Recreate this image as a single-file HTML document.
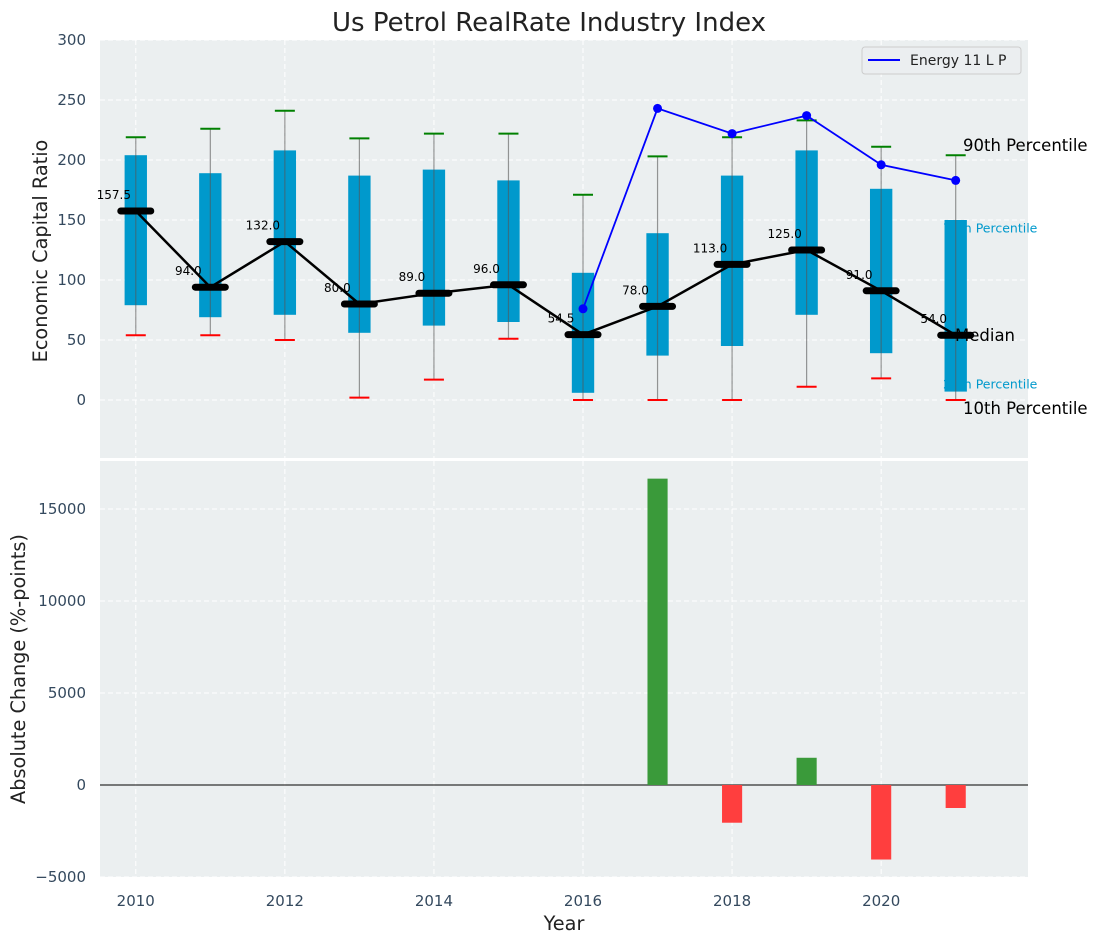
<!DOCTYPE html>
<html><head><meta charset="utf-8"><style>
body{margin:0;background:#fff;}
svg{display:block;font-family:"DejaVu Sans","Liberation Sans",sans-serif;}
</style></head><body>
<svg id="chart" width="1098" height="942"></svg>
<script>
const years=[2010,2011,2012,2013,2014,2015,2016,2017,2018,2019,2020,2021];
const p10=[54,54,50,2,17,51,0,0,0,11,18,0];
const p25=[79,69,71,56,62,65,6,37,45,71,39,7];
const med=[157.5,94,132,80,89,96,54.5,78,113,125,91,54];
const p75=[204,189,208,187,192,183,106,139,187,208,176,150];
const p90=[219,226,241,218,222,222,171,203,219,233,211,204];
const energyYears=[2016,2017,2018,2019,2020,2021];
const energyVals=[76,243,222,237,196,183];
const changeYears=[2017,2018,2019,2020,2021];
const changeVals=[16650,-2050,1480,-4050,-1250];
const yTicksTop=[0,50,100,150,200,250,300];
const yTicksBot=[-5000,0,5000,10000,15000];
const xTicks=[2010,2012,2014,2016,2018,2020];

const NS="http://www.w3.org/2000/svg";
const svg=document.getElementById('chart');
function el(tag,attrs,parent){const e=document.createElementNS(NS,tag);for(const k in attrs)e.setAttribute(k,attrs[k]);(parent||svg).appendChild(e);return e;}
const L=100,R=1028;
const x=v=>L+(v-2009.52)/(2021.97-2009.52)*(R-L);
const T1=40,B1=458;
const y1=v=>400-v*1.2;
const T2=461,B2=877;
const y2=v=>785-v*0.0184;

let bg=el('rect',{x:L,y:T1,width:R-L,height:B1-T1,fill:'#ebeff0'});

let bg2=el('rect',{x:L,y:T2,width:R-L,height:B2-T2,fill:'#ebeff0'});


xTicks.forEach(t=>{
  el('line',{x1:x(t),x2:x(t),y1:T1,y2:B1,stroke:'#fff','stroke-dasharray':'5,3','stroke-width':1});
  el('line',{x1:x(t),x2:x(t),y1:T2,y2:B2,stroke:'#fff','stroke-dasharray':'5,3','stroke-width':1});
  const tx=el('text',{x:x(t),y:906,'text-anchor':'middle','font-size':15,fill:'#34495e'});tx.textContent=t;
  
});
yTicksTop.forEach(t=>{
  el('line',{x1:L,x2:R,y1:y1(t),y2:y1(t),stroke:'#fff','stroke-dasharray':'5,3'});
  const tx=el('text',{x:86,y:y1(t)+5,'text-anchor':'end','font-size':15,fill:'#34495e'});tx.textContent=t;
  
});
yTicksBot.forEach(t=>{
  el('line',{x1:L,x2:R,y1:y2(t),y2:y2(t),stroke:'#fff','stroke-dasharray':'5,3'});
  const tx=el('text',{x:86,y:y2(t)+5,'text-anchor':'end','font-size':15,fill:'#34495e'});tx.textContent=(t<0?'\u2212'+(-t):t);
  
});

const a75=el('text',{x:943,y:y1(143)+4,'font-size':12.5,fill:'#0099cc'});a75.textContent='75th Percentile';

const a25=el('text',{x:943,y:y1(13)+4,'font-size':12.5,fill:'#0099cc'});a25.textContent='25th Percentile';


const bw=0.3*(R-L)/12.45;
years.forEach((yr,i)=>{
  const cx=x(yr);
  const b=el('rect',{x:cx-bw/2,y:y1(p75[i]),width:bw,height:y1(p25[i])-y1(p75[i]),fill:'#0099cc'});
  
  el('line',{x1:cx,x2:cx,y1:y1(p10[i]),y2:y1(p90[i]),stroke:'#555','stroke-opacity':0.6,'stroke-width':1.2});
  el('line',{x1:cx-10,x2:cx+10,y1:y1(p90[i]),y2:y1(p90[i]),stroke:'green','stroke-width':2});
  el('line',{x1:cx-10,x2:cx+10,y1:y1(p10[i]),y2:y1(p10[i]),stroke:'red','stroke-width':2});
});
const mp=el('polyline',{points:years.map((yr,i)=>x(yr)+','+y1(med[i])).join(' '),fill:'none',stroke:'#000','stroke-width':2.5});

years.forEach((yr,i)=>{
  const cx=x(yr);
  const m=el('line',{x1:cx-15,x2:cx+15,y1:y1(med[i]),y2:y1(med[i]),stroke:'#000','stroke-width':7,'stroke-linecap':'round'});
  
  const t=el('text',{x:cx-22,y:y1(med[i])-12,'text-anchor':'middle','font-size':12,fill:'#000'});t.textContent=med[i].toFixed(1);
  
});
const ep=el('polyline',{points:energyYears.map((yr,i)=>x(yr)+','+y1(energyVals[i])).join(' '),fill:'none',stroke:'#0000ff','stroke-width':1.8});

energyYears.forEach((yr,i)=>{const c=el('circle',{cx:x(yr),cy:y1(energyVals[i]),r:4.5,fill:'#0000ff'});
  });

const ann=[['90th Percentile',963,151],['Median',955,341],['10th Percentile',963,414]];
ann.forEach(a=>{const t=el('text',{x:a[1],y:a[2],'font-size':16.5,fill:'#000'});t.textContent=a[0];
  });

const lg=el('g',{});
el('rect',{x:862,y:47,width:159,height:27,rx:3,fill:'#ebeef0',stroke:'#ccc'},lg);
el('line',{x1:868,x2:900,y1:60,y2:60,stroke:'#0000ff','stroke-width':2},lg);
const lt=el('text',{x:910,y:65,'font-size':14,fill:'#222'},lg);lt.textContent='Energy 11 L P';

const barW=0.27*(R-L)/12.45;
el('line',{x1:L,x2:R,y1:y2(0),y2:y2(0),stroke:'#000','stroke-width':1});
changeYears.forEach((yr,i)=>{
  const v=changeVals[i];
  const r=el('rect',{x:x(yr)-barW/2,y:Math.min(y2(v),y2(0)),width:barW,height:Math.abs(y2(v)-y2(0)),fill:v>=0?'#3a9a3a':'#ff3e3e'});
  
});

const ti=el('text',{x:549,y:31,'text-anchor':'middle','font-size':26,fill:'#222'});ti.textContent='Us Petrol RealRate Industry Index';

const yl=el('text',{x:0,y:0,transform:'translate(47,251) rotate(-90)','text-anchor':'middle','font-size':19.3,fill:'#222'});yl.textContent='Economic Capital Ratio';

const yl2=el('text',{x:0,y:0,transform:'translate(25,669) rotate(-90)','text-anchor':'middle','font-size':19.3,fill:'#222'});yl2.textContent='Absolute Change (%-points)';

const xl=el('text',{x:564,y:930,'text-anchor':'middle','font-size':19.3,fill:'#222'});xl.textContent='Year';

</script>
</body></html>
